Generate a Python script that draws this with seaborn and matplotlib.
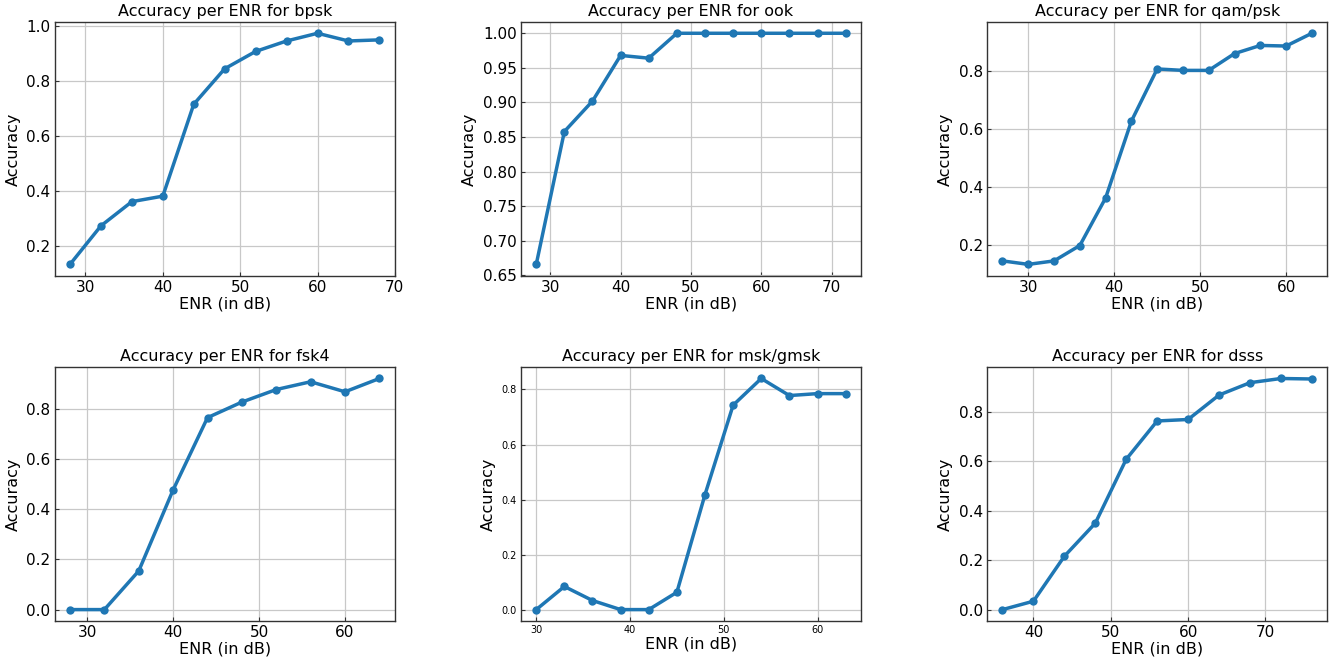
import seaborn as sns
import matplotlib.pyplot as plt
from matplotlib.ticker import MultipleLocator, FormatStrFormatter
import pandas as pd

# modulation names, one subplot each
MODS = ["bpsk", "ook", "qam/psk", "fsk4", "msk/gmsk", "dsss"]

# ENR values (dB) per modulation
ENR_BPSK = [28, 32, 36, 40, 44, 48, 52, 56, 60, 64, 68]
ENR_OOK = [28, 32, 36, 40, 44, 48, 52, 56, 60, 64, 68, 72]
ENR_QAM = [27, 30, 33, 36, 39, 42, 45, 48, 51, 54, 57, 60, 63]
ENR_FSK4 = [28, 32, 36, 40, 44, 48, 52, 56, 60, 64]
ENR_MSK = [30, 33, 36, 39, 42, 45, 48, 51, 54, 57, 60, 63]
ENR_DSSS = [36, 40, 44, 48, 52, 56, 60, 64, 68, 72, 76]

# accuracy
ACC_BPSK = [0.133, 0.273, 0.361, 0.381, 0.715, 0.844, 0.907, 0.945, 0.973, 0.945, 0.949]
ACC_OOK = [0.666, 0.858, 0.902, 0.968, 0.964, 1.0, 1.0, 1.0, 1.0, 1.0, 1.0, 1.0]
ACC_QAM = [0.146, 0.134, 0.146, 0.199, 0.363, 0.628, 0.808, 0.803, 0.803, 0.861, 0.889, 0.887, 0.931]
ACC_FSK4 = [0.0, 0.0, 0.154, 0.477, 0.765, 0.827, 0.877, 0.908, 0.868, 0.921]
ACC_MSK = [0.0, 0.084, 0.033, 0.0, 0.0, 0.063, 0.418, 0.743, 0.840, 0.778, 0.785, 0.785]
ACC_DSSS = [0.0, 0.034, 0.216, 0.350, 0.609, 0.764, 0.770, 0.869, 0.919, 0.936, 0.934]

ENRS = [ENR_BPSK, ENR_OOK, ENR_QAM, ENR_FSK4, ENR_MSK, ENR_DSSS]
ACCS = [ACC_BPSK, ACC_OOK, ACC_QAM, ACC_FSK4, ACC_MSK, ACC_DSSS]

sns.set_style("whitegrid", {
    "axes.edgecolor": "#333333",
    "grid.color": "#c8c8c8",
    "text.color": "black",
    "axes.labelcolor": "black",
    "xtick.color": "black",
    "ytick.color": "black",
    "xtick.direction": "in",
    "ytick.direction": "in",
    "xtick.bottom": True,
    "ytick.left": True,
})
plt.rcParams["font.family"] = ["DejaVu Sans"]

fig, axes = plt.subplots(2, 3, figsize=(13.3, 6.58), dpi=100)
fig.subplots_adjust(left=0.041, right=0.998, top=0.967, bottom=0.056,
                    wspace=0.37, hspace=0.358)

for ax, mod, enr, acc in zip(axes.flat, MODS, ENRS, ACCS):
    df = pd.DataFrame({"ENR": enr, "Accuracy": acc})
    sns.lineplot(data=df, x="ENR", y="Accuracy", ax=ax, color="#1f77b4",
                 linewidth=2.5, marker="o", markersize=6, markeredgewidth=0)
    ax.set_title(f"Accuracy per ENR for {mod}", fontsize=11.5, pad=4)
    ax.set_xlabel("ENR (in dB)", fontsize=11.5, labelpad=1)
    ax.set_ylabel("Accuracy", fontsize=11.5)
    small = mod == "msk/gmsk"
    if small:
        ax.xaxis.set_major_locator(MultipleLocator(10))
    if mod == "ook":
        ax.yaxis.set_major_locator(MultipleLocator(0.05))
        ax.yaxis.set_major_formatter(FormatStrFormatter("%.2f"))
    ax.tick_params(labelsize=7 if small else 11, length=3, width=0.8,
                   color="#333333", pad=3)
    for s in ax.spines.values():
        s.set_linewidth(1.0)
    ax.grid(True, linewidth=0.9)

plt.savefig("out.png", dpi=100)
